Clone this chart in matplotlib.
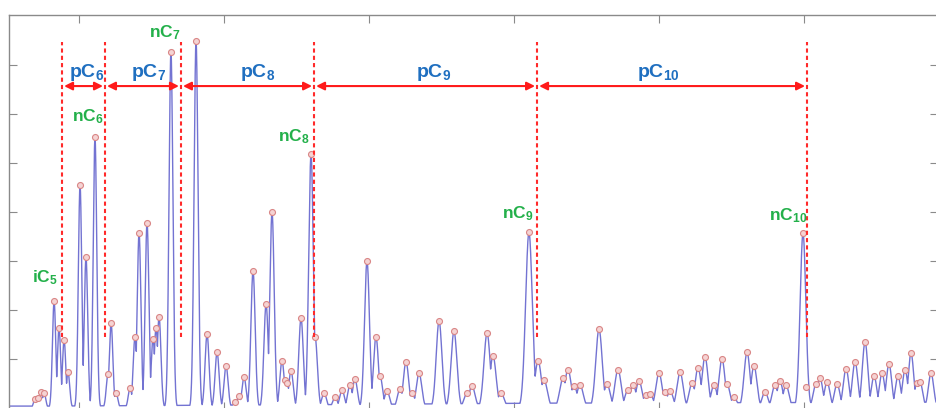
import numpy as np
import matplotlib
matplotlib.use('Agg')
import matplotlib.pyplot as plt

plt.rcParams['font.family'] = ['Liberation Sans', 'DejaVu Sans']
plt.rcParams['mathtext.fontset'] = 'custom'
plt.rcParams['mathtext.rm'] = 'Liberation Sans:bold'
plt.rcParams['mathtext.it'] = 'Liberation Sans:bold'

# retention time (min) and height of every detected peak
peak_t = [0.697, 0.717, 0.738, 0.759,
          0.828, 0.862, 0.897, 0.924, 1.007, 1.048, 1.110,
          1.200, 1.221, 1.255, 1.352, 1.386, 1.414, 1.469, 1.510, 1.531, 1.552, 1.634,
          1.807, 1.883, 1.952, 2.014, 2.076, 2.103, 2.138, 2.200, 2.290, 2.331,
          2.400, 2.421, 2.434, 2.462, 2.531, 2.600, 2.628,
          2.690, 2.766, 2.814, 2.869, 2.903, 2.986, 3.048, 3.076, 3.124, 3.214,
          3.255, 3.297, 3.345, 3.483, 3.586, 3.676, 3.710, 3.814, 3.855, 3.910, 4.103,
          4.166, 4.207, 4.338, 4.372, 4.414, 4.455, 4.586, 4.641, 4.717, 4.786,
          4.821, 4.862, 4.910, 4.938, 5.000, 5.041, 5.076, 5.145, 5.228, 5.269,
          5.317, 5.379, 5.434, 5.469, 5.517, 5.607, 5.655, 5.731, 5.800, 5.834,
          5.876, 5.993, 6.014, 6.083, 6.110, 6.159, 6.228, 6.290, 6.352, 6.421,
          6.483, 6.538, 6.586, 6.648, 6.697, 6.738, 6.779, 6.800, 6.876]
peak_h = [0.18, 0.20, 0.33, 0.31,
          2.18, 1.63, 1.39, 0.73, 4.55, 3.08, 5.53,
          0.69, 1.73, 0.31, 0.41, 1.45, 3.57, 3.78, 1.41, 1.63, 1.86, 7.27,
          7.49, 1.51, 1.14, 0.86, 0.12, 0.24, 0.63, 2.80, 2.12, 4.00,
          0.96, 0.57, 0.51, 0.76, 1.84, 5.18, 1.45,
          0.31, 0.22, 0.37, 0.47, 0.59, 3.00, 1.45, 0.65, 0.35, 0.39,
          0.94, 0.31, 0.71, 1.78, 1.57, 0.31, 0.45, 1.53, 1.06, 0.31, 3.59,
          0.96, 0.57, 0.61, 0.78, 0.45, 0.47, 1.61, 0.49, 0.78, 0.37,
          0.47, 0.55, 0.27, 0.29, 0.71, 0.33, 0.35, 0.73, 0.51, 0.82,
          1.04, 0.47, 1.00, 0.49, 0.22, 1.14, 0.86, 0.33, 0.47, 0.55,
          0.47, 3.57, 0.43, 0.49, 0.61, 0.53, 0.49, 0.80, 0.94, 1.35,
          0.65, 0.71, 0.90, 0.65, 0.78, 1.12, 0.51, 0.53, 0.71]

# detector baseline level along the run
base_t = [0.5, 0.8, 2.7, 4.2, 7.0]
base_h = [0.04, 0.04, 0.07, 0.10, 0.12]

# carbon-number windows (dashed boundaries) and their labels
bounds = [0.883, 1.179, 1.703, 2.621, 4.159, 6.021]
group_labels = [r'pC$_{6}$', r'pC$_{7}$', r'pC$_{8}$', r'pC$_{9}$', r'pC$_{10}$']
group_label_t = [1.055, 1.483, 2.234, 3.448, 4.993]

# normal / iso alkane markers
alk_labels = [r'iC$_{5}$', r'nC$_{6}$', r'nC$_{7}$', r'nC$_{8}$', r'nC$_{9}$', r'nC$_{10}$']
alk_t = [0.766, 1.062, 1.593, 2.483, 4.028, 5.890]
alk_y = [2.67, 5.94, 7.67, 5.53, 3.96, 3.92]

# build the trace: each peak as a gaussian, widening with retention time
t = np.arange(0.517, 6.93, 0.0005)
pt = np.array(peak_t)
ph = np.array(peak_h)
sig = np.interp(pt, [0.6, 2.0, 3.0, 4.1, 7.0], [0.011, 0.014, 0.017, 0.023, 0.018])
peaks = ph[:, None] * np.exp(-0.5 * ((t[None, :] - pt[:, None]) / sig[:, None]) ** 2)
signal = np.maximum(peaks.max(axis=0), np.interp(t, base_t, base_h))

fig = plt.figure(figsize=(9.36, 4.08), dpi=100)
ax = fig.add_axes([9 / 936, -2 / 408, 929 / 936, 395 / 408])

ax.plot(t, signal, color='#7373d2', lw=1.0, zorder=2)
ax.plot(pt, ph, 'o', ms=4.3, mfc='#f5d3d3', mec='#d98585', mew=0.8, zorder=3)

ax.vlines(bounds, 1.45, 7.47, colors='#ff2a2a', linestyles=(0, (2, 1.5)), lw=1.5, zorder=4)

gap = 0.014
arrow_y = 6.57
for a, b in zip(bounds[:-1], bounds[1:]):
    ax.annotate('', xy=(b - gap, arrow_y), xytext=(a + gap, arrow_y),
                arrowprops=dict(arrowstyle='<|-|>', color='#ff1a1a', lw=1.5,
                                mutation_scale=12, shrinkA=0, shrinkB=0), zorder=4)

for lab, x in zip(group_labels, group_label_t):
    ax.text(x, 6.84, lab, color='#1f6fc0', fontsize=14, fontweight='bold',
            ha='center', va='center', zorder=5)

for lab, x, y in zip(alk_labels, alk_t, alk_y):
    ax.text(x, y, lab, color='#23b04a', fontsize=12.5, fontweight='bold',
            ha='center', va='center', zorder=5)

ax.set_xlim(0.517, 6.924)
ax.set_ylim(-0.04, 8.02)
ax.set_xticks([1, 2, 3, 4, 5, 6])
ax.set_yticks([1, 2, 3, 4, 5, 6, 7])
ax.tick_params(direction='in', top=True, right=True, length=6, color='#8a8a8a',
               labelbottom=False, labelleft=False)
for s in ax.spines.values():
    s.set_color('#8a8a8a')
    s.set_linewidth(1.0)

fig.savefig('out.png', dpi=100)
